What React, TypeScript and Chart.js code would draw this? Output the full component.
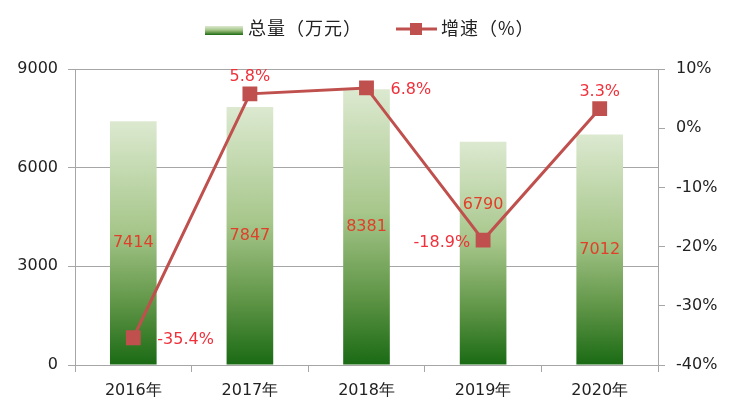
import { useEffect, useRef } from "react"
import { Chart, registerables, type Plugin, type ChartConfiguration } from "chart.js"

Chart.register(...registerables)

const years = ["2016年", "2017年", "2018年", "2019年", "2020年"]
const totals = [7414, 7847, 8381, 6790, 7012]
const growth = [-35.4, 5.8, 6.8, -18.9, 3.3]
const totalLabel = "总量（万元）"
const growthLabel = "增速（%）"

// where each growth label sits relative to its marker
const growthLabelPos = ["right", "top", "right", "left", "top"]
// 2019's bar label is pushed up to clear the line label
const barLabelShift = [0, 0, 0, -48, 0]

const FONT = "'DejaVu Sans', Verdana, sans-serif"
const CJK = "'Noto Sans CJK SC', sans-serif"
const GRID = "#a6a6a6"
const LINE = "#c0504d"

function barGradient(ctx: CanvasRenderingContext2D, top: number, bottom: number) {
  const g = ctx.createLinearGradient(0, top, 0, bottom)
  g.addColorStop(0, "#dce9d0")
  g.addColorStop(0.45, "#a6c68a")
  g.addColorStop(0.75, "#5f9546")
  g.addColorStop(1, "#1a6a14")
  return g
}

const labelsPlugin: Plugin = {
  id: "valueLabels",
  afterDatasetsDraw(chart) {
    const ctx = chart.ctx
    ctx.save()
    ctx.font = `16px ${FONT}`
    ctx.textBaseline = "middle"

    const bars = chart.getDatasetMeta(0).data
    ctx.fillStyle = "#e0402a"
    ctx.textAlign = "center"
    bars.forEach((el: any, i) => {
      ctx.fillText(String(totals[i]), el.x, (el.y + el.base) / 2 + barLabelShift[i])
    })

    const pts = chart.getDatasetMeta(1).data
    ctx.fillStyle = "#f0303a"
    pts.forEach((el: any, i) => {
      const text = growth[i].toFixed(1) + "%"
      const pos = growthLabelPos[i]
      if (pos === "top") {
        ctx.textAlign = "center"
        ctx.fillText(text, el.x, el.y - 17)
      } else if (pos === "left") {
        ctx.textAlign = "right"
        ctx.fillText(text, el.x - 13, el.y + 3)
      } else {
        ctx.textAlign = "left"
        ctx.fillText(text, el.x + 24, el.y + 2)
      }
    })
    ctx.restore()
  },
}

const legendPlugin: Plugin = {
  id: "customLegend",
  afterDraw(chart) {
    const ctx = chart.ctx as any
    ctx.save()
    const cy = 28
    ctx.fillStyle = barGradient(ctx, 26, 35)
    ctx.fillRect(205, 26, 38, 9)

    ctx.font = `18px ${CJK}`
    ctx.letterSpacing = "1px"
    ctx.fillStyle = "#222"
    ctx.textBaseline = "middle"
    ctx.textAlign = "left"
    ctx.fillText(totalLabel, 248, cy)

    ctx.strokeStyle = LINE
    ctx.lineWidth = 3
    ctx.beginPath()
    ctx.moveTo(396, cy + 1)
    ctx.lineTo(437, cy + 1)
    ctx.stroke()
    ctx.fillStyle = LINE
    ctx.fillRect(410, cy - 5, 12, 12)

    ctx.fillStyle = "#222"
    ctx.fillText(growthLabel, 441, cy)
    ctx.restore()
  },
}

export default function App() {
  const canvasRef = useRef<HTMLCanvasElement | null>(null)
  const chartRef = useRef<Chart | null>(null)

  useEffect(() => {
    document.body.style.margin = "0"
    if (!canvasRef.current) return
    const ctx = canvasRef.current.getContext("2d")
    if (!ctx) return
    if (chartRef.current) chartRef.current.destroy()

    const config: ChartConfiguration = {
      type: "bar",
      data: {
        labels: years,
        datasets: [
          {
            type: "bar",
            label: totalLabel,
            data: totals,
            yAxisID: "y",
            order: 2,
            barPercentage: 0.4,
            categoryPercentage: 1,
            backgroundColor: (c: any) => {
              const chart = c.chart
              if (!chart.chartArea || c.type !== "data") return "#7fa860"
              const y = chart.scales.y
              return barGradient(chart.ctx, y.getPixelForValue(totals[c.dataIndex]), y.getPixelForValue(0))
            },
          },
          {
            type: "line",
            label: growthLabel,
            data: growth,
            yAxisID: "y1",
            order: 1,
            borderColor: LINE,
            borderWidth: 3,
            backgroundColor: LINE,
            pointStyle: "rect",
            pointRadius: 10.5,
            pointBackgroundColor: LINE,
            pointBorderColor: LINE,
            pointBorderWidth: 0,
            tension: 0,
          },
        ],
      },
      options: {
        responsive: false,
        animation: false,
        layout: { padding: { top: 69, left: 0, right: 0, bottom: 0 } },
        plugins: {
          legend: { display: false },
          tooltip: { enabled: false },
        },
        scales: {
          x: {
            offset: true,
            grid: { offset: true, drawOnChartArea: false, color: GRID, tickLength: 7 },
            border: { color: GRID },
            ticks: { color: "#222", font: { size: 16, family: FONT }, padding: 9 },
            afterFit: (s: any) => { s.height = 51 },
          },
          y: {
            position: "left",
            min: 0,
            max: 9000,
            ticks: {
              stepSize: 3000,
              color: "#222",
              font: { size: 16, family: FONT },
              padding: 10,
              callback: (v: any) => String(v),
            },
            grid: { color: GRID, tickLength: 7 },
            border: { color: GRID },
            afterFit: (s: any) => { s.width = 75 },
          },
          y1: {
            position: "right",
            min: -40,
            max: 10,
            ticks: {
              stepSize: 10,
              color: "#222",
              font: { size: 16, family: FONT },
              padding: 11,
              callback: (v: any) => v + "%",
            },
            grid: { drawOnChartArea: false, color: GRID, tickLength: 7 },
            border: { color: GRID },
            afterFit: (s: any) => { s.width = 75 },
          },
        },
      },
      plugins: [labelsPlugin, legendPlugin],
    }

    chartRef.current = new Chart(ctx, config)
    return () => {
      if (chartRef.current) {
        chartRef.current.destroy()
        chartRef.current = null
      }
    }
  }, [])

  return (
    <div style={{ width: 733, height: 416 }}>
      <canvas ref={canvasRef} width={733} height={416} />
    </div>
  )
}
